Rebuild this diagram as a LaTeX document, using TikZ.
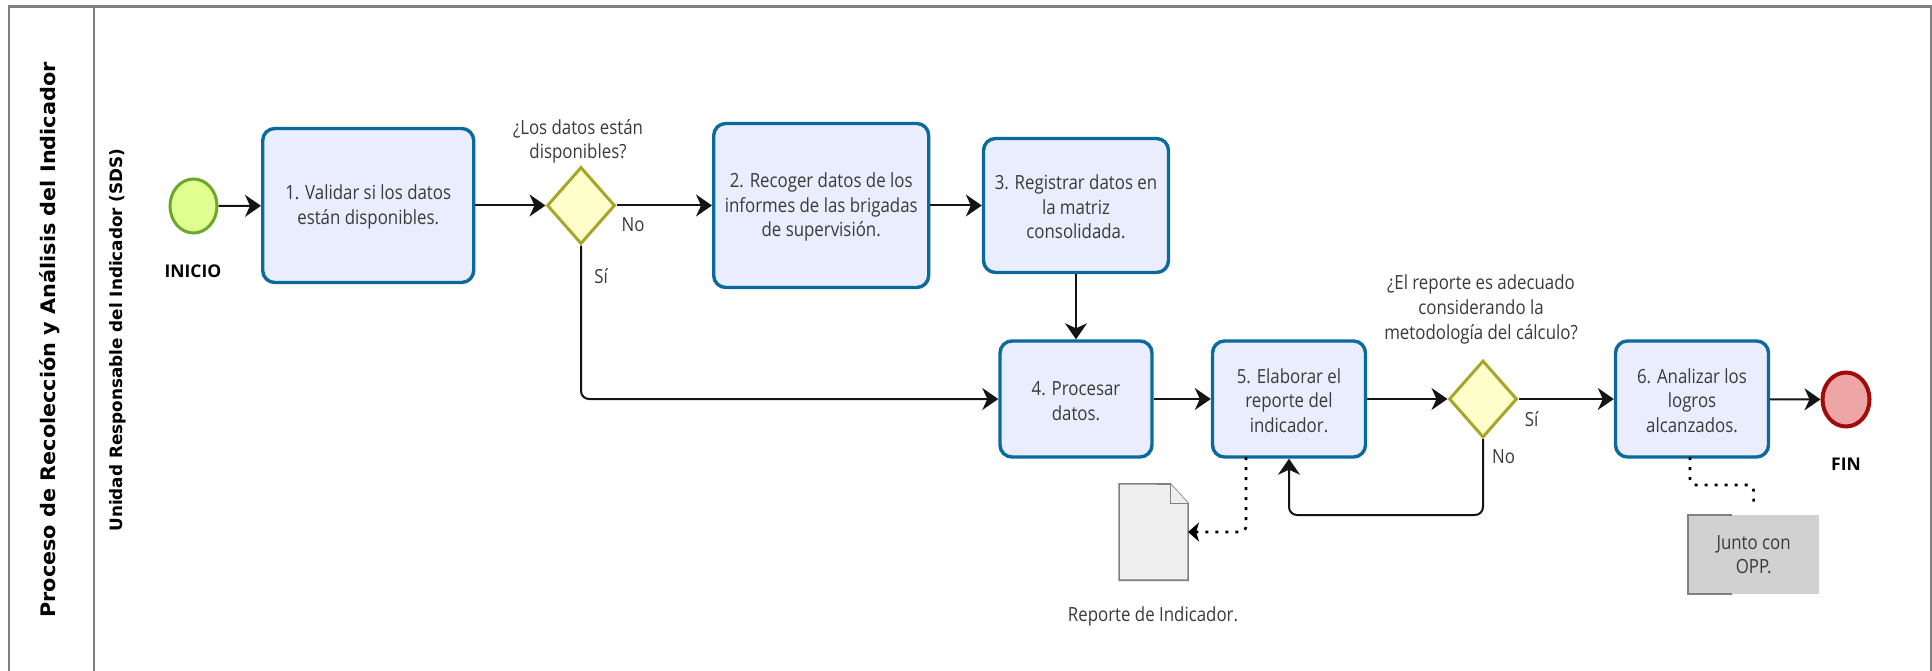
\documentclass[tikz,border=0pt]{standalone}
\usepackage{fontspec}
\setmainfont{Open Sans}[FakeStretch=0.864]
\newfontfamily\boldf{Open Sans}[FakeStretch=1.0]
\newfontfamily\hdrf{DejaVu Sans}[FakeStretch=1.04]
\newfontfamily\hdrsf{DejaVu Sans}[FakeStretch=0.99]
\newcommand{\firstln}{\rule{0pt}{18pt}}
\usetikzlibrary{arrows.meta,shapes.geometric}
\definecolor{boxline}{HTML}{0B6A9C}
\definecolor{boxfill}{HTML}{EAEDFD}
\definecolor{txt}{HTML}{3A3A3A}
\definecolor{frame}{HTML}{808080}
\definecolor{gatel}{HTML}{A6A62A}
\definecolor{gatef}{HTML}{FFFFCC}
\definecolor{startl}{HTML}{6AA82A}
\definecolor{startf}{HTML}{DFFF90}
\definecolor{endl}{HTML}{A00C0C}
\definecolor{endf}{HTML}{EEA5A5}
\tikzset{
  x=1pt,y=-1pt,
  body/.style={font=\fontsize{19.5}{24.6}\selectfont,text=txt,align=center,inner sep=0pt},
  task/.style={body,draw=boxline,fill=boxfill,line width=3.4pt,rounded corners=12pt},
  gate/.style={shape=diamond,draw=gatel,fill=gatef,line width=3pt,inner sep=0pt,shape aspect=0.88,minimum width=68pt,minimum height=77pt},
  lbl/.style={body},
  hdr/.style={font=\hdrf\bfseries\fontsize{20}{25}\selectfont,text=black,inner sep=0pt,rotate=90},
  hdrs/.style={font=\hdrsf\bfseries\fontsize{17}{19}\selectfont,text=black,inner sep=0pt,rotate=90},
  evlabel/.style={font=\boldf\bfseries\fontsize{17.5}{20}\selectfont,text=black,inner sep=0pt},
  flow/.style={draw=black!92,line width=2pt,-{Stealth[length=16pt,width=22pt,inset=5pt]},rounded corners=8pt},
  dots/.style={draw=black,line width=2.6pt,dash pattern=on 3pt off 7pt,rounded corners=6pt},
  doctip/.style={-{Stealth[length=11pt,width=19pt,inset=3pt]}},
  event/.style={shape=ellipse,line width=3pt,minimum width=47pt,minimum height=54pt,inner sep=0pt},
}
\begin{document}
\begin{tikzpicture}
\useasboundingbox (0,0) rectangle (1932,671);
% pool frame
\draw[frame,line width=2.2pt] (9,671) -- (9,6.5) -- (1930.6,6.5) -- (1930.6,671);
\draw[frame,line width=2.2pt] (94,6.5) -- (94,671);
\node[hdr] (title) at (50,340) {Proceso de Recolección y Análisis del Indicador};
\node[hdrs] (lane) at (118,340) {Unidad Responsable del Indicador (SDS)};
% events
\node[event,draw=startl,fill=startf] (start) at (193.5,206) {};
\node[evlabel] (inicio) at (193,271) {INICIO};
\node[event,draw=endl,fill=endf,line width=4pt] (finev) at (1846,399.5) {};
\node[evlabel] (fin) at (1846,464) {FIN};
% tasks
\node[task,minimum width=211pt,minimum height=154pt] (b1) at (368.2,205.5) {\firstln 1. Validar si los datos\\están disponibles.};
\node[task,minimum width=215pt,minimum height=164pt] (b2) at (821.2,205.5) {\firstln 2. Recoger datos de los\\informes de las brigadas\\de supervisión.};
\node[task,minimum width=185pt,minimum height=134pt] (b3) at (1076,205.5) {\firstln 3. Registrar datos en\\la matriz\\consolidada.};
\node[task,minimum width=152pt,minimum height=116pt] (b4) at (1076,399) {\firstln 4. Procesar\\datos.};
\node[task,minimum width=153pt,minimum height=116pt] (b5) at (1289,399) {\firstln 5. Elaborar el\\reporte del\\indicador.};
\node[task,minimum width=153pt,minimum height=116pt] (b6) at (1692,399) {\firstln 6. Analizar los\\logros\\alcanzados.};
% gateways
\node[gate] (d1) at (581,205.5) {};
\node[gate] (d2) at (1483,399) {};
% labels
\node[lbl] (q1) at (578,141.5) {¿Los datos están\\disponibles?};
\node[lbl] (q2) at (1481,309.5) {¿El reporte es adecuado\\considerando la\\metodología del cálculo?};
\node[lbl] (no1) at (633,225) {No};
\node[lbl] (si1) at (601,276) {Sí};
\node[lbl] (si2) at (1531.5,419) {Sí};
\node[lbl] (no2) at (1503.5,456.5) {No};
% document
\node[inner sep=0pt,minimum width=68.5pt,minimum height=96pt] (doc) at (1153.6,532) {};
\draw[draw=frame,fill=black!6.5,line width=1.6pt] (doc.north west) -- (1170.4,484) -- (doc.east |- 0,503.3) -- (doc.south east) -- (doc.south west) -- cycle;
\draw[draw=frame,fill=black!6.5,line width=1.6pt] (1170.4,484) -- (1170.4,503.3) -- (doc.east |- 0,503.3);
\node[lbl] (doct) at (1153,616.7) {Reporte de Indicador.};
% annotation
\node[body,fill=black!18,minimum width=131.6pt,minimum height=79pt] (note) at (1753.6,554.5) {Junto con\\OPP.};
\draw[draw=frame,line width=1.6pt] (1731.6,515) -- (1688,515) -- (1688,594) -- (1731.6,594);
% connectors
\draw[flow] (start) -- (b1);
\draw[flow] (b1) -- (d1);
\draw[flow] (d1) -- (b2);
\draw[flow] (b2) -- (b3);
\draw[flow] (b3) -- (b4);
\draw[flow] (d1.south) |- (b4.west);
\draw[flow] (b4) -- (b5);
\draw[flow] (b5) -- (d2);
\draw[flow] (d2) -- (b6);
\draw[flow] (b6) -- (finev);
\coordinate (fb) at (0,515);
\draw[flow] (d2.south) -- (d2.south |- fb) -- (b5.south |- fb) -- (b5.south);
\coordinate (ds5) at (1246,457);
\coordinate (dc5) at (1246,532);
\draw[dots,doctip] (ds5) -- (dc5) -- (doc.east);
\coordinate (ds6) at (1690,457);
\coordinate (dc6) at (1690,485);
\draw[dots,shorten >=8pt] (ds6) -- (dc6) -- (note.north |- dc6) -- (note.north);
\end{tikzpicture}
\end{document}
